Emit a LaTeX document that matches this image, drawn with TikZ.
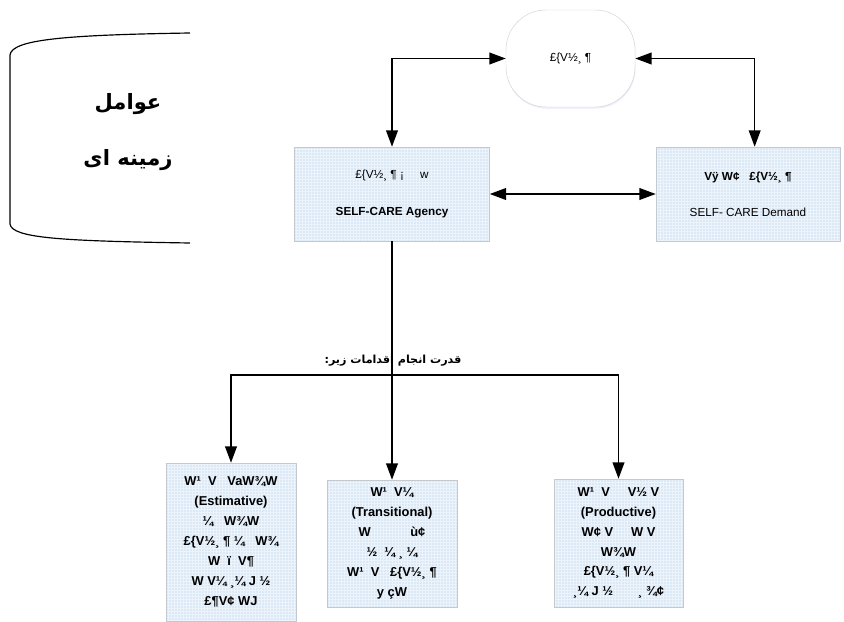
\documentclass[tikz,border=0pt]{standalone}
\usepackage{fontspec}
\setmainfont{Liberation Sans}
\newfontfamily\arabicfont[Script=Arabic]{DejaVu Sans}
\TeXXeTstate=1
\usetikzlibrary{arrows.meta, shapes.misc, shadows}

\definecolor{boxblue}{RGB}{219,232,246}
\definecolor{gridblue}{RGB}{236,243,251}
\definecolor{boxline}{RGB}{196,201,208}

\begin{document}
\begin{tikzpicture}[
    x=0.03cm, y=-0.03cm,
    >={Triangle[length=14pt, width=10pt]},
    carebox/.style={rectangle, draw=boxline, fill=boxblue, align=center, inner sep=2pt,
        font=\fontsize{11}{17}\selectfont\bfseries,
        path picture={\draw[gridblue, line width=0.4pt, step=0.09cm]
            (path picture bounding box.south west) grid (path picture bounding box.north east);}},
    termbox/.style={rectangle, rounded corners=1.2cm, draw=gray!35, fill=white, align=center,
        font=\fontsize{10}{12}\selectfont,
        drop shadow={shadow xshift=0.5pt, shadow yshift=-1.5pt, fill=blue!12}},
    arrow/.style={->, line width=1.4pt},
    biarrow/.style={<->, line width=1.4pt}
]
\useasboundingbox (0,0) rectangle (844,622);

% =============================================================
% Context factors (left bracket shape)
% =============================================================
\draw[line width=1pt] (190,33) .. controls (60,35) and (12,40) .. (10,55) -- (10,224)
    .. controls (12,238) and (60,241) .. (190,243);
\node[font=\arabicfont\bfseries\fontsize{18}{48}\selectfont, align=center] (context) at (128,132)
    {\beginR عوامل\endR\\\beginR زمینه ای\endR};

% =============================================================
% Top row: terminal, agency, demand
% =============================================================
\node[termbox, minimum width=3.87cm, minimum height=2.91cm] (self) at (570.5,58.5) {£\{V½¸ ¶};
\node[carebox, font=\fontsize{10}{12}\selectfont, minimum width=5.85cm, minimum height=2.82cm] (agency) at (392,194)
    {£\{V½¸ ¶ ¡~~~~~w\\[19pt]{\bfseries SELF-CARE Agency}};
\node[carebox, font=\fontsize{10}{12}\selectfont, minimum width=5.52cm, minimum height=2.82cm] (demand) at (748,194)
    {{\bfseries Vÿ W¢~~~£\{V½¸ ¶}\\[19pt]SELF- CARE Demand};

\draw[biarrow] (self.west) -| (agency.north);
\draw[biarrow] (self.east) -| ([xshift=0.2cm]demand.north);
\draw[biarrow] (agency.east) -- (demand.west);

% =============================================================
% Bottom row: the three kinds of operations
% =============================================================
\node[carebox, minimum width=3.9cm, minimum height=4.74cm] (estim) at (231,542)
    {W¹~~V~~~VaW¾W\\(Estimative)\\¼~~~W¾W\\£\{V½¸ ¶ ¼~~~W¾\\W~~ï~~V¶\\W~V¼ ¸¼ J ½\\£¶V¢ WJ};
\node[carebox, minimum width=3.9cm, minimum height=3.81cm] (trans) at (392,543.5)
    {W¹~~V¼\\(Transitional)\\W~~~~~~~~~~~ù¢\\½~~¼ ¸ ¼\\W¹~~V~~~£\{V½¸ ¶\\y çW};
\node[carebox, minimum width=3.87cm, minimum height=3.84cm] (prod) at (618.5,543)
    {W¹~~V~~~~~V½ V\\(Productive)\\W¢ V~~~~~W V\\W¾W\\£\{V½¸ ¶ V¼\\¸¼ J ½~~~~~~~¸ ¾¢};

\coordinate (split) at (392,375);
\draw[arrow] (agency.south) -- (trans.north);
\draw[arrow] (split) -| (estim.north);
\draw[arrow] (split) -| (prod.north);
\node[font=\arabicfont\bfseries\fontsize{9.5}{11}\selectfont] (abilities) at (393,361)
    {\beginR قدرت انجام اقدامات زیر:\endR};

\end{tikzpicture}
\end{document}
